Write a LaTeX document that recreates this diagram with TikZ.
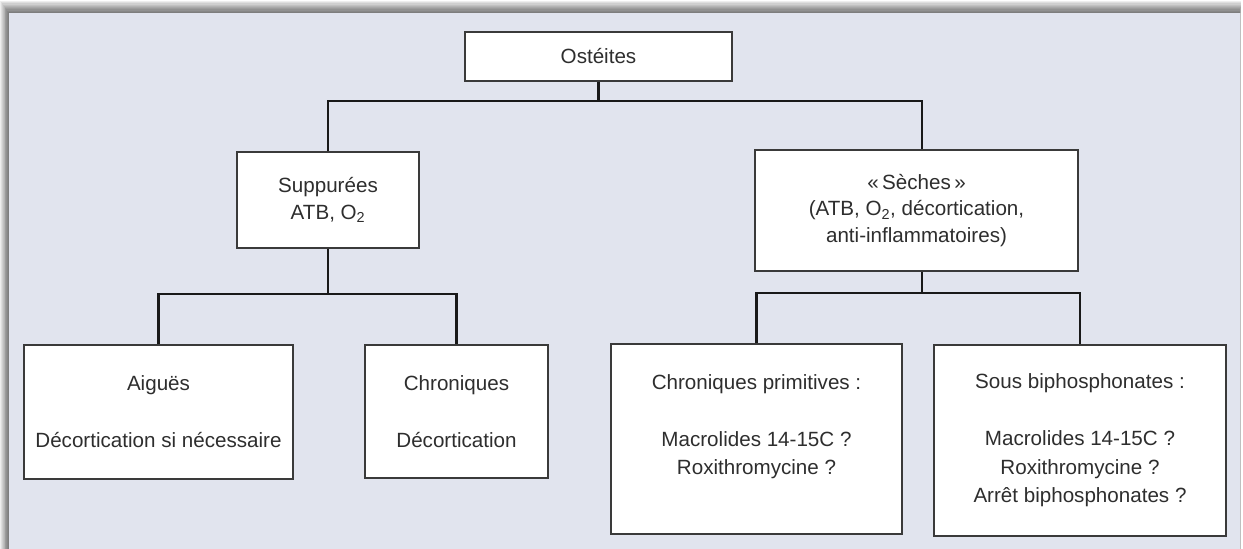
\documentclass[tikz,border=0pt]{standalone}
\usepackage{fontspec}
\setmainfont{Liberation Sans}
\usetikzlibrary{calc}
\definecolor{panel}{HTML}{E1E4EE}
\definecolor{txt}{HTML}{2E2E2E}
\definecolor{frame}{HTML}{3A3A3A}
\begin{document}
\begin{tikzpicture}[x=1pt,y=-1pt,
  box/.style={draw=frame,line width=1.3pt,fill=white,text=txt,align=center,
    inner sep=0pt,font=\fontsize{20.6}{28.5}\selectfont},
  link/.style={draw=black!90,line width=2.9pt,line join=miter}]
\useasboundingbox (0,0) rectangle (1243,549);
\fill[white] (0,0) rectangle (1243,549);
% shadow
\foreach \i in {1,...,10}{
  \fill[black,opacity=0.065] (9-\i*0.9,13-\i*1.2) rectangle (1240+\i*0.1,549);
}
\fill[panel] (9,13) rectangle (1240,549);
\draw[black!25,line width=0.8pt] (1240,13) -- (1240,549);
% nodes
\node[box,minimum width=267,minimum height=49] (ost) at (598.5,56.5) {Ostéites};
\node[box,minimum width=182,minimum height=96] (sup) at (328,200) {Suppurées\\[-1.5pt]ATB, O\textsubscript{2}};
\node[box,minimum width=323,minimum height=121] (sec) at (916.5,210.5) {«\,Sèches\,»\\[-2pt](ATB, O\textsubscript{2}, décortication,\\[-2pt]anti-inflammatoires)};
\node[box,minimum width=269,minimum height=134] (aig) at (158.5,412) {Aiguës\\ \\Décortication si nécessaire};
\node[box,minimum width=183,minimum height=133] (chr) at (456.5,411.5) {Chroniques\\ \\Décortication};
\node[box,minimum width=291,minimum height=190] (cp) at (756.5,439) {Chroniques primitives :\\ \\Macrolides 14-15C ?\\Roxithromycine ?\\ };
\node[box,minimum width=292,minimum height=191] (sb) at (1080,440.5) {Sous biphosphonates :\\ \\Macrolides 14-15C ?\\Roxithromycine ?\\Arrêt biphosphonates ?};
% junctions
\coordinate (j1) at (598.5,101);
\coordinate (j2) at (328,294);
\coordinate (j3) at (922,293);
% connectors
\draw[link] (ost.south) -- (j1);
\draw[link] (sup.north) |- (j1) -| ([xshift=5.5pt]sec.north);
\draw[link] (sup.south) -- (j2);
\draw[link] (aig.north) |- (j2) -| (chr.north);
\draw[link] ([xshift=5.5pt]sec.south) -- (j3);
\draw[link] (cp.north) |- (j3) -| (sb.north);
\end{tikzpicture}
\end{document}
